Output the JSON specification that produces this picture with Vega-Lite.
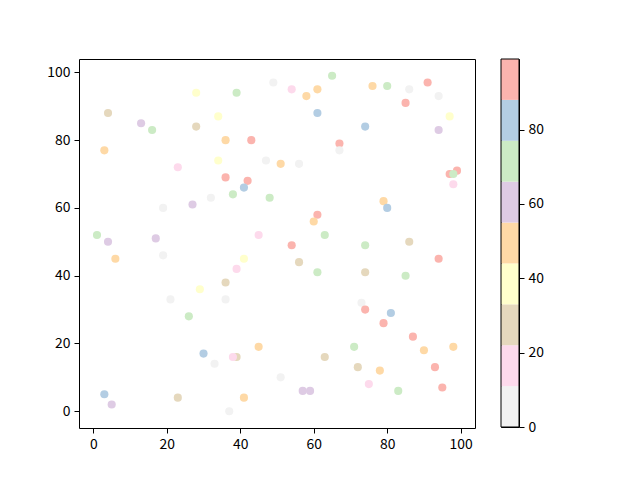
{
  "$schema": "https://vega.github.io/schema/vega-lite/v6.json",
  "padding": {"left": 46, "top": 58, "right": 5, "bottom": 5},
  "bounds": "flush",
  "spacing": 26,
  "config": {
    "view": {"stroke": "black", "strokeWidth": 1},
    "axis": {
      "labelFont": "Noto Sans CJK SC",
      "labelFontSize": 13.9,
      "labelColor": "black",
      "tickColor": "black",
      "tickSize": 5,
      "labelPadding": 4,
      "domain": false,
      "grid": false,
      "title": null
    }
  },
  "hconcat": [
    {
      "width": 396,
      "height": 369,
      "data": {"values": [
        {"x": 49, "y": 97, "c": 5}, {"x": 28, "y": 94, "c": 38}, {"x": 39, "y": 94, "c": 71},
        {"x": 4, "y": 88, "c": 27}, {"x": 13, "y": 85, "c": 60}, {"x": 16, "y": 83, "c": 71},
        {"x": 28, "y": 84, "c": 27}, {"x": 34, "y": 87, "c": 38}, {"x": 36, "y": 80, "c": 49},
        {"x": 43, "y": 80, "c": 93}, {"x": 3, "y": 77, "c": 49}, {"x": 23, "y": 72, "c": 16},
        {"x": 34, "y": 74, "c": 38}, {"x": 47, "y": 74, "c": 5}, {"x": 51, "y": 73, "c": 49},
        {"x": 36, "y": 69, "c": 93}, {"x": 42, "y": 68, "c": 93}, {"x": 41, "y": 66, "c": 82},
        {"x": 38, "y": 64, "c": 71}, {"x": 32, "y": 63, "c": 5}, {"x": 48, "y": 63, "c": 71},
        {"x": 27, "y": 61, "c": 60}, {"x": 19, "y": 60, "c": 5}, {"x": 1, "y": 52, "c": 71},
        {"x": 4, "y": 50, "c": 60}, {"x": 17, "y": 51, "c": 60}, {"x": 45, "y": 52, "c": 16},
        {"x": 6, "y": 45, "c": 49}, {"x": 19, "y": 46, "c": 5}, {"x": 41, "y": 45, "c": 38},
        {"x": 39, "y": 42, "c": 16}, {"x": 36, "y": 38, "c": 27}, {"x": 29, "y": 36, "c": 38},
        {"x": 21, "y": 33, "c": 5}, {"x": 36, "y": 33, "c": 5}, {"x": 26, "y": 28, "c": 71},
        {"x": 30, "y": 17, "c": 82}, {"x": 33, "y": 14, "c": 5}, {"x": 39, "y": 16, "c": 27},
        {"x": 38, "y": 16, "c": 16}, {"x": 45, "y": 19, "c": 49}, {"x": 51, "y": 10, "c": 5},
        {"x": 3, "y": 5, "c": 82}, {"x": 5, "y": 2, "c": 60}, {"x": 23, "y": 4, "c": 27},
        {"x": 41, "y": 4, "c": 49}, {"x": 37, "y": 0, "c": 5}, {"x": 54, "y": 95, "c": 16},
        {"x": 58, "y": 93, "c": 49}, {"x": 61, "y": 95, "c": 49}, {"x": 65, "y": 99, "c": 71},
        {"x": 76, "y": 96, "c": 49}, {"x": 80, "y": 96, "c": 71}, {"x": 86, "y": 95, "c": 5},
        {"x": 91, "y": 97, "c": 93}, {"x": 94, "y": 93, "c": 5}, {"x": 85, "y": 91, "c": 93},
        {"x": 61, "y": 88, "c": 82}, {"x": 74, "y": 84, "c": 82}, {"x": 97, "y": 87, "c": 38},
        {"x": 94, "y": 83, "c": 60}, {"x": 67, "y": 79, "c": 93}, {"x": 67, "y": 77, "c": 5},
        {"x": 56, "y": 73, "c": 5}, {"x": 97, "y": 70, "c": 93}, {"x": 99, "y": 71, "c": 93},
        {"x": 98, "y": 70, "c": 71}, {"x": 98, "y": 67, "c": 16}, {"x": 79, "y": 62, "c": 49},
        {"x": 80, "y": 60, "c": 82}, {"x": 61, "y": 58, "c": 93}, {"x": 60, "y": 56, "c": 49},
        {"x": 63, "y": 52, "c": 71}, {"x": 54, "y": 49, "c": 93}, {"x": 74, "y": 49, "c": 71},
        {"x": 86, "y": 50, "c": 27}, {"x": 94, "y": 45, "c": 93}, {"x": 56, "y": 44, "c": 27},
        {"x": 61, "y": 41, "c": 71}, {"x": 74, "y": 41, "c": 27}, {"x": 85, "y": 40, "c": 71},
        {"x": 73, "y": 32, "c": 5}, {"x": 74, "y": 30, "c": 93}, {"x": 81, "y": 29, "c": 82},
        {"x": 79, "y": 26, "c": 93}, {"x": 87, "y": 22, "c": 93}, {"x": 71, "y": 19, "c": 71},
        {"x": 90, "y": 18, "c": 49}, {"x": 98, "y": 19, "c": 49}, {"x": 63, "y": 16, "c": 27},
        {"x": 72, "y": 13, "c": 27}, {"x": 78, "y": 12, "c": 49}, {"x": 93, "y": 13, "c": 93},
        {"x": 57, "y": 6, "c": 60}, {"x": 59, "y": 6, "c": 60}, {"x": 75, "y": 8, "c": 16},
        {"x": 83, "y": 6, "c": 71}, {"x": 95, "y": 7, "c": 93}
      ]},
      "mark": {"type": "circle", "size": 66, "opacity": 1},
      "encoding": {
        "x": {"field": "x", "type": "quantitative",
              "scale": {"domain": [-3.9, 103.9], "nice": false, "zero": false},
              "axis": {"values": [0, 20, 40, 60, 80, 100]}},
        "y": {"field": "y", "type": "quantitative",
              "scale": {"domain": [-4.95, 103.95], "nice": false, "zero": false},
              "axis": {"values": [0, 20, 40, 60, 80, 100]}},
        "color": {"field": "c", "type": "quantitative",
                  "scale": {"type": "quantize", "domain": [0, 99],
                            "range": ["#f2f2f2", "#fddaec", "#e5d8bd", "#ffffcc", "#fed9a6", "#decbe4", "#ccebc5", "#b3cde3", "#fbb4ae"]},
                  "legend": null}
      }
    },
    {
      "width": 18,
      "height": 368,
      "layer": [
        {
          "data": {"values": [
            {"lo": 0, "hi": 11, "c": 5}, {"lo": 11, "hi": 22, "c": 16}, {"lo": 22, "hi": 33, "c": 27},
            {"lo": 33, "hi": 44, "c": 38}, {"lo": 44, "hi": 55, "c": 49}, {"lo": 55, "hi": 66, "c": 60},
            {"lo": 66, "hi": 77, "c": 71}, {"lo": 77, "hi": 88, "c": 82}, {"lo": 88, "hi": 99, "c": 93}
          ]},
          "mark": {"type": "rect"},
          "encoding": {
            "y": {"field": "lo", "type": "quantitative",
                  "scale": {"domain": [0, 99], "nice": false, "zero": false},
                  "axis": {"orient": "right", "values": [0, 20, 40, 60, 80]}},
            "y2": {"field": "hi"},
            "color": {"field": "c", "type": "quantitative",
                      "scale": {"type": "quantize", "domain": [0, 99],
                                "range": ["#f2f2f2", "#fddaec", "#e5d8bd", "#ffffcc", "#fed9a6", "#decbe4", "#ccebc5", "#b3cde3", "#fbb4ae"]},
                      "legend": null}
          }
        },
        {
          "data": {"values": [{"lo": 0, "hi": 99}]},
          "mark": {"type": "rect", "filled": false, "stroke": "black", "strokeWidth": 1},
          "encoding": {
            "y": {"field": "lo", "type": "quantitative"},
            "y2": {"field": "hi"}
          }
        }
      ]
    }
  ]
}
